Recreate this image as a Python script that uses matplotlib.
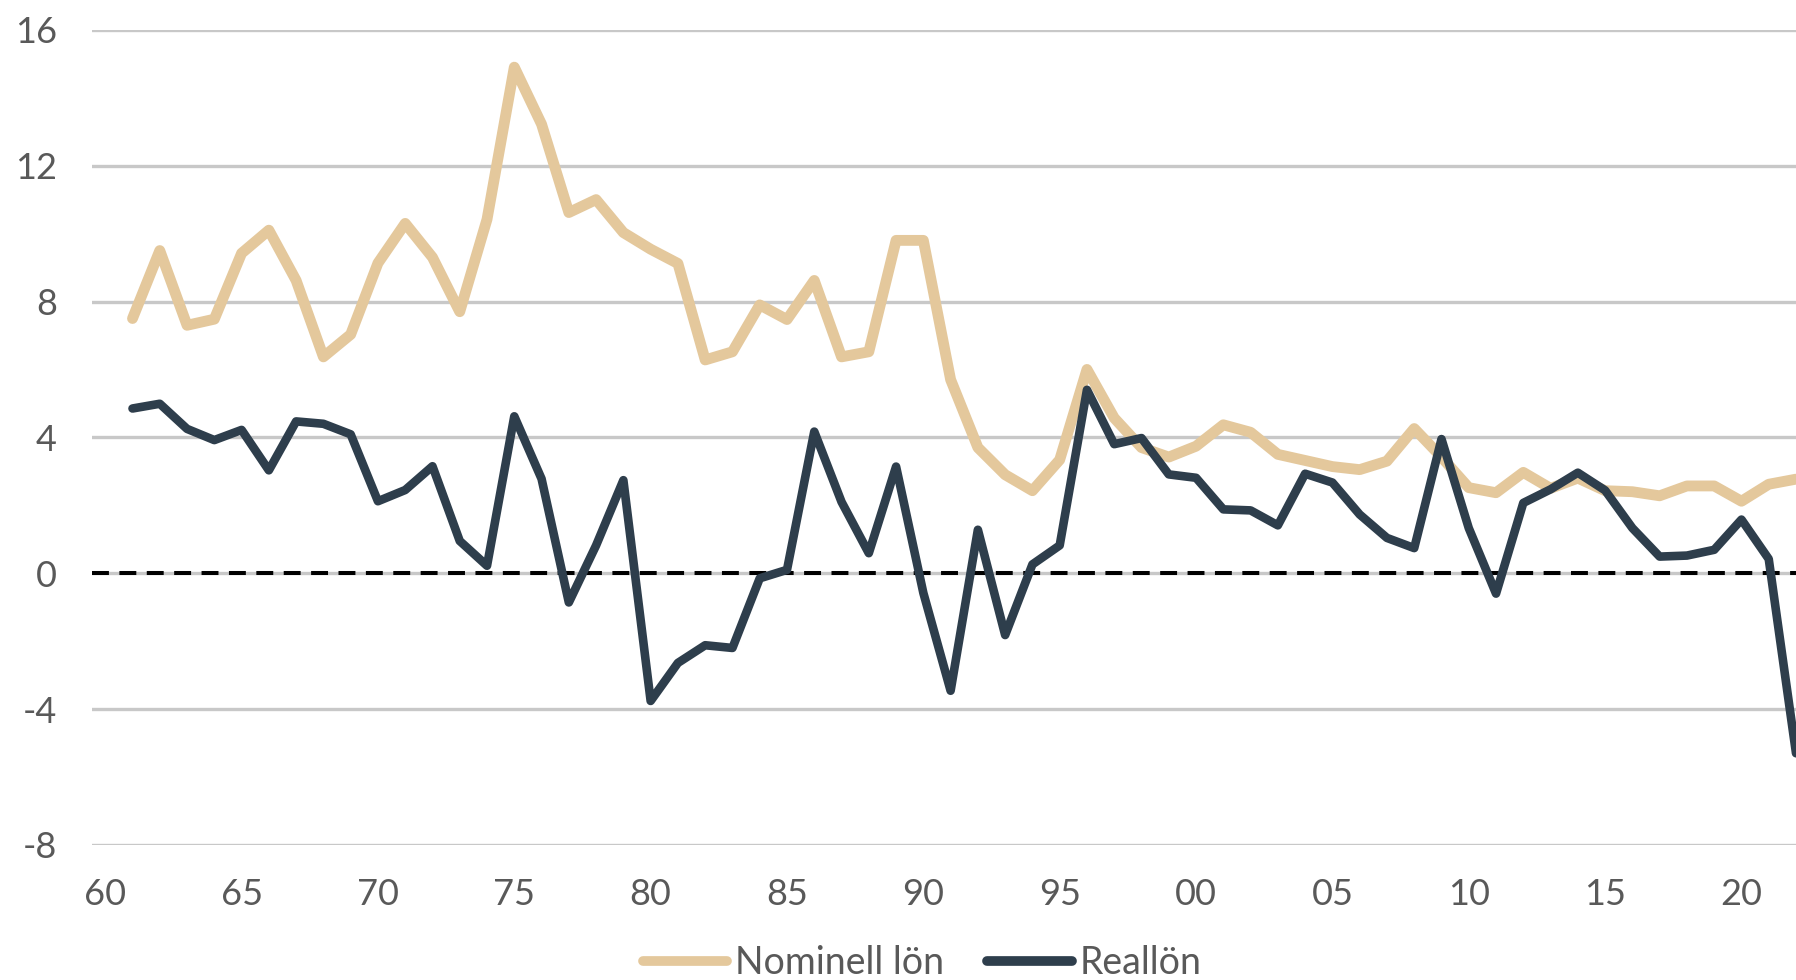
import matplotlib
matplotlib.use("Agg")
import matplotlib.pyplot as plt
import numpy as np

plt.rcParams["font.family"] = ["Lato", "DejaVu Sans"]

# Annual wage growth, percent
years = list(range(1961, 2023))
nominal_wage = [
    7.50, 9.50, 7.30, 7.48, 9.42, 10.10, 8.62, 6.37, 7.03, 9.13,
    10.30, 9.30, 7.70, 10.42, 14.90, 13.22, 10.62, 11.00, 10.03, 9.54,
    9.12, 6.28, 6.52, 7.90, 7.47, 8.62, 6.37, 6.52, 9.80, 9.80,
    5.70, 3.70, 2.90, 2.43, 3.34, 6.00, 4.57, 3.70, 3.42, 3.74,
    4.37, 4.15, 3.50, 3.32, 3.14, 3.05, 3.30, 4.26, 3.42, 2.52,
    2.37, 2.97, 2.50, 2.80, 2.43, 2.40, 2.28, 2.57, 2.57, 2.12,
    2.62, 2.77,
]
real_wage = [
    4.85, 4.99, 4.25, 3.92, 4.22, 3.03, 4.47, 4.40, 4.09, 2.12,
    2.45, 3.15, 0.95, 0.22, 4.62, 2.78, -0.86, 0.82, 2.74, -3.76,
    -2.64, -2.12, -2.20, -0.15, 0.10, 4.17, 2.10, 0.59, 3.14, -0.58,
    -3.46, 1.28, -1.82, 0.26, 0.82, 5.40, 3.80, 3.98, 2.91, 2.81,
    1.88, 1.85, 1.41, 2.93, 2.67, 1.73, 1.04, 0.74, 3.95, 1.33,
    -0.60, 2.07, 2.47, 2.96, 2.44, 1.33, 0.49, 0.52, 0.69, 1.58,
    0.42, -5.30,
]
series_labels = ["Nominell lön", "Reallön"]
y_ticks = [-8, -4, 0, 4, 8, 12, 16]
x_ticks = list(range(1960, 2021, 5))
x_tick_labels = ["60", "65", "70", "75", "80", "85", "90", "95",
                 "00", "05", "10", "15", "20"]

TAN = "#E4C89C"
NAVY = "#2E3E4C"
GRID = "#C8C8C8"
TEXT = "#595959"

fig = plt.figure(figsize=(17.96, 9.80), dpi=100)
ax = fig.add_axes([0.051, 0.1378, 0.949, 0.8318])

for yv in y_ticks:
    ax.axhline(yv, color=GRID, lw=2.4, zorder=1)
ax.axhline(0, color="black", lw=2.9, ls=(0, (4.2, 2.6)), zorder=2)

ax.plot(years, nominal_wage, color=TAN, lw=7.8, label=series_labels[0],
        solid_joinstyle="round", solid_capstyle="round", zorder=3,
        clip_on=False)
ax.plot(years, real_wage, color=NAVY, lw=6.2, label=series_labels[1],
        solid_joinstyle="round", solid_capstyle="round", zorder=4,
        clip_on=False)

ax.set_xlim(1959.5, 2022.0)
ax.set_ylim(-8, 16)
ax.set_yticks(y_ticks)
ax.set_yticklabels([str(v) for v in y_ticks])
ax.set_xticks(x_ticks)
ax.set_xticklabels(x_tick_labels)
ax.tick_params(axis="both", length=0, labelsize=26, labelcolor=TEXT)
ax.tick_params(axis="y", pad=25)
ax.tick_params(axis="x", pad=24)
for s in ax.spines.values():
    s.set_visible(False)

leg = fig.legend(loc="center", bbox_to_anchor=(0.5134, 0.0175), ncol=2,
                 frameon=False, fontsize=27, handlelength=2.26,
                 handletextpad=0.2, columnspacing=1.15,
                 labelcolor=TEXT)
for line in leg.get_lines():
    line.set_linewidth(7.0)
    line.set_solid_capstyle("round")

fig.savefig("out.png", dpi=100)
